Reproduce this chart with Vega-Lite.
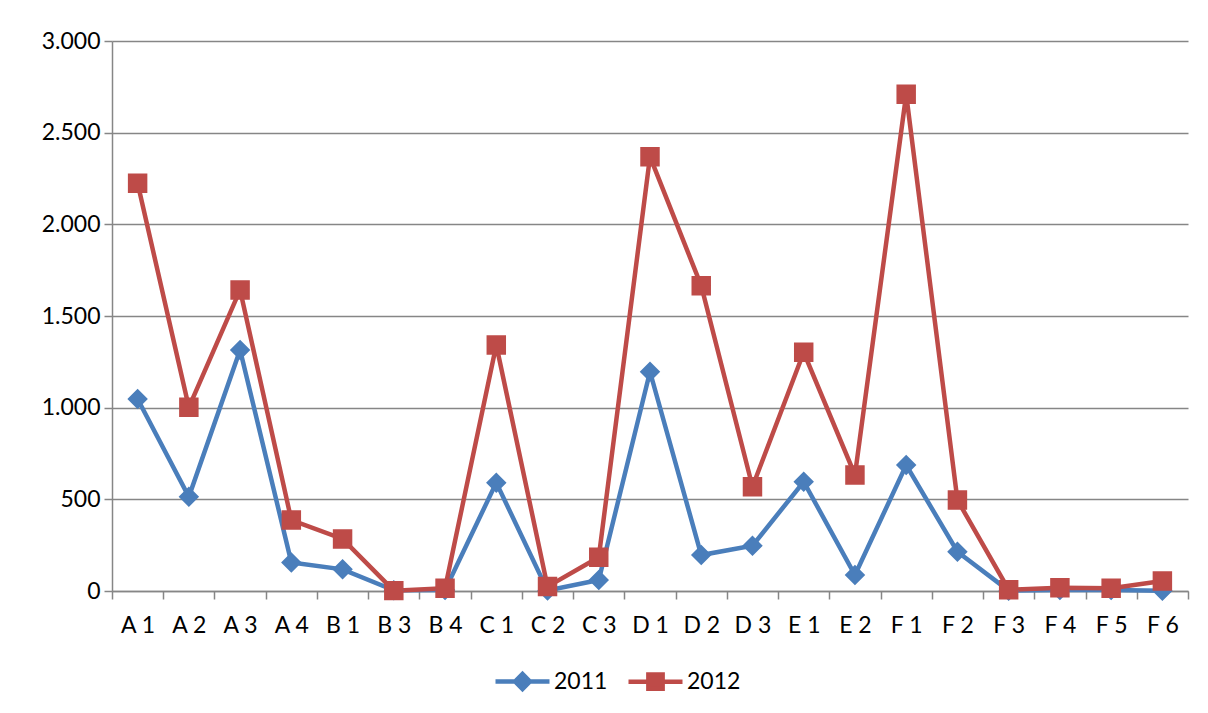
{
  "$schema": "https://vega.github.io/schema/vega-lite/v6.json",
  "autosize": "none",
  "width": 1076,
  "height": 550,
  "padding": {"left": 112, "top": 41, "right": 20, "bottom": 122},
  "background": "white",
  "config": {
    "view": {"stroke": null},
    "font": "Lato",
    "axis": {"labelFont": "Lato", "labelFontSize": 23, "labelColor": "#000000", "domainColor": "#868686", "tickColor": "#868686", "gridColor": "#868686", "domainWidth": 1.5, "tickWidth": 1.5, "gridWidth": 1.5}
  },
  "data": {
    "values": [
      {"cat": "A 1", "year": "2011", "value": 1047}, {"cat": "A 1", "year": "2012", "value": 2224},
      {"cat": "A 2", "year": "2011", "value": 514}, {"cat": "A 2", "year": "2012", "value": 1002},
      {"cat": "A 3", "year": "2011", "value": 1315}, {"cat": "A 3", "year": "2012", "value": 1642},
      {"cat": "A 4", "year": "2011", "value": 156}, {"cat": "A 4", "year": "2012", "value": 387},
      {"cat": "B 1", "year": "2011", "value": 118}, {"cat": "B 1", "year": "2012", "value": 284},
      {"cat": "B 3", "year": "2011", "value": 4}, {"cat": "B 3", "year": "2012", "value": 2},
      {"cat": "B 4", "year": "2011", "value": 5}, {"cat": "B 4", "year": "2012", "value": 15},
      {"cat": "C 1", "year": "2011", "value": 591}, {"cat": "C 1", "year": "2012", "value": 1342},
      {"cat": "C 2", "year": "2011", "value": 3}, {"cat": "C 2", "year": "2012", "value": 24},
      {"cat": "C 3", "year": "2011", "value": 60}, {"cat": "C 3", "year": "2012", "value": 184},
      {"cat": "D 1", "year": "2011", "value": 1196}, {"cat": "D 1", "year": "2012", "value": 2369},
      {"cat": "D 2", "year": "2011", "value": 196}, {"cat": "D 2", "year": "2012", "value": 1665},
      {"cat": "D 3", "year": "2011", "value": 247}, {"cat": "D 3", "year": "2012", "value": 569},
      {"cat": "E 1", "year": "2011", "value": 596}, {"cat": "E 1", "year": "2012", "value": 1302},
      {"cat": "E 2", "year": "2011", "value": 87}, {"cat": "E 2", "year": "2012", "value": 633},
      {"cat": "F 1", "year": "2011", "value": 687}, {"cat": "F 1", "year": "2012", "value": 2709},
      {"cat": "F 2", "year": "2011", "value": 214}, {"cat": "F 2", "year": "2012", "value": 496},
      {"cat": "F 3", "year": "2011", "value": 2}, {"cat": "F 3", "year": "2012", "value": 7},
      {"cat": "F 4", "year": "2011", "value": 5}, {"cat": "F 4", "year": "2012", "value": 18},
      {"cat": "F 5", "year": "2011", "value": 5}, {"cat": "F 5", "year": "2012", "value": 15},
      {"cat": "F 6", "year": "2011", "value": 1}, {"cat": "F 6", "year": "2012", "value": 55}
    ]
  },
  "encoding": {
    "x": {
      "field": "cat", "type": "nominal", "sort": null,
      "scale": {"paddingInner": 0, "paddingOuter": 0},
      "axis": {"title": null, "labelAngle": 0, "tickBand": "extent", "tickSize": 8, "labelPadding": 15, "grid": false}
    },
    "y": {
      "field": "value", "type": "quantitative",
      "scale": {"domain": [0, 3000], "nice": false},
      "axis": {"title": null, "values": [0, 500, 1000, 1500, 2000, 2500, 3000], "tickSize": 8, "labelPadding": 4, "grid": true,
               "labelExpr": "replace(format(datum.value, ','), ',', '.')"}
    },
    "color": {
      "field": "year", "type": "nominal",
      "scale": {"domain": ["2011", "2012"], "range": ["#4A7EBB", "#BE4B48"]},
      "legend": {
        "title": null, "orient": "none", "direction": "horizontal",
        "legendX": 399, "legendY": 629, "padding": 0,
        "labelFont": "Lato", "labelFontSize": 23, "labelColor": "#000000",
        "symbolSize": 225, "labelOffset": 20, "columnPadding": 11,
        "symbolStrokeWidth": 4.5
      }
    }
  },
  "layer": [
    {"mark": {"type": "line", "strokeWidth": 4.5}},
    {
      "mark": {"type": "point", "filled": true, "opacity": 1, "size": 420, "strokeWidth": 0},
      "encoding": {
        "shape": {
          "field": "year", "type": "nominal",
          "scale": {"domain": ["2011", "2012"], "range": [
            "M-3.6,0H-1L0,-1L1,0H3.6H1L0,1L-1,0H-3.6Z",
            "M-3.6,0H-0.95V-0.95H0.95V0H3.6H0.95V0.95H-0.95V0H-3.6Z"
          ]},
          "legend": {
            "title": null,
            "encode": {"symbols": {"update": {"stroke": {"scale": "color", "field": "value"}, "strokeWidth": {"value": 4.5}}}}
          }
        }
      }
    }
  ]
}
